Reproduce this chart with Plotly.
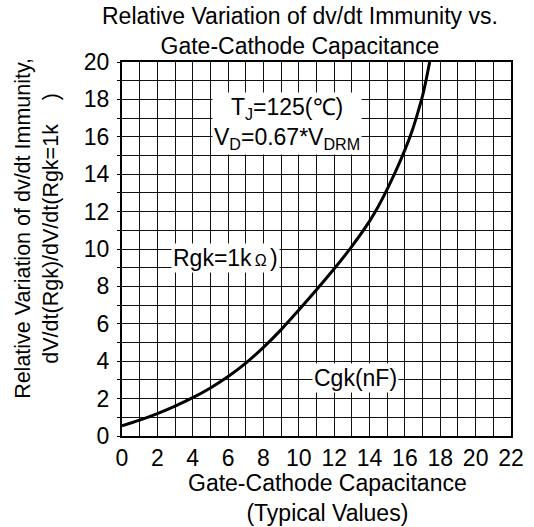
import plotly.graph_objects as go

# Data
cgk_nf = [0, 1, 2, 3, 4, 5, 6, 7, 8, 9, 10, 11, 12, 13, 14, 14.5, 15, 15.5, 16,
          16.4, 16.7, 17, 17.2, 17.4]
rel_dvdt = [0.55, 0.85, 1.2, 1.6, 2.05, 2.57, 3.18, 3.9, 4.74, 5.69, 6.74, 7.82, 8.94,
            10.14, 11.49, 12.29, 13.2, 14.2, 15.3, 16.3, 17.2, 18.2, 19.05, 20]

x_ticks = [0, 2, 4, 6, 8, 10, 12, 14, 16, 18, 20, 22]
y_ticks = [0, 2, 4, 6, 8, 10, 12, 14, 16, 18, 20]

FONT = "Liberation Sans, Arial, sans-serif"
FS = 23
GRID = "#111111"

fig = go.Figure()
fig.add_trace(go.Scatter(
    x=cgk_nf, y=rel_dvdt, mode="lines",
    line=dict(color="black", width=3, shape="spline", smoothing=1.0),
    showlegend=False, hoverinfo="skip",
))

fig.update_layout(
    width=534, height=527,
    margin=dict(l=122, r=23, t=62, b=91, autoexpand=False),
    paper_bgcolor="white", plot_bgcolor="white",
    font=dict(family=FONT, size=FS, color="black"),
    showlegend=False,
)

fig.update_xaxes(
    range=[0, 22], tickvals=x_ticks, ticktext=[str(v) for v in x_ticks],
    showgrid=True, gridcolor=GRID, gridwidth=1.2,
    minor=dict(dtick=1, showgrid=True, gridcolor=GRID, gridwidth=1.2),
    showline=True, linecolor="black", linewidth=2, mirror=True,
    ticks="", zeroline=False, tickfont=dict(size=FS), automargin=False,
)
fig.update_yaxes(
    range=[0, 20], tickvals=y_ticks, ticktext=[str(v) for v in y_ticks],
    showgrid=True, gridcolor=GRID, gridwidth=1.2,
    minor=dict(dtick=1, showgrid=True, gridcolor=GRID, gridwidth=1.2,
               ticks="outside", ticklen=3, tickcolor="black"),
    showline=True, linecolor="black", linewidth=2, mirror=True,
    ticks="outside", ticklen=3, tickcolor="black",
    zeroline=False, tickfont=dict(size=FS), ticklabelstandoff=3, automargin=False,
)

# Title
fig.add_annotation(
    xref="paper", yref="paper", x=0.4576, y=1.083, xanchor="center", yanchor="middle",
    text="Relative Variation of dv/dt Immunity vs.<br>Gate-Cathode Capacitance",
    showarrow=False, font=dict(size=FS),
)
# X axis title
fig.add_annotation(
    xref="paper", yref="paper", x=0.527, y=-0.166, xanchor="center", yanchor="middle",
    text="Gate-Cathode Capacitance<br>(Typical Values)",
    showarrow=False, font=dict(size=FS),
)
# Y axis title
fig.add_annotation(
    xref="paper", yref="paper", x=-0.219, y=0.556, xanchor="center", yanchor="middle",
    text="Relative Variation of dv/dt Immunity,<br>dV/dt(Rgk)/dV/dt(Rgk=1k\u00a0\u00a0\u00a0\u00a0)",
    textangle=-90, showarrow=False, font=dict(size=21.5),
)

# In-plot labels
fig.add_annotation(
    x=9.33, y=16.7, xanchor="center", yanchor="middle",
    text="T<sub>J</sub>=125(℃)<br>V<sub>D</sub>=0.67*V<sub>DRM</sub>",
    showarrow=False, bgcolor="white", font=dict(size=FS),
)
fig.add_annotation(
    x=5.85, y=9.5, xanchor="center", yanchor="middle",
    text="Rgk=1k<span style='font-size:16px'>\u2009Ω\u2009</span>)",
    showarrow=False, bgcolor="white", font=dict(size=FS),
)
fig.add_annotation(
    x=13.2, y=3.1, xanchor="center", yanchor="middle",
    text="Cgk(nF)",
    showarrow=False, bgcolor="white", font=dict(size=FS),
)

fig.write_html("out.html", config={"displayModeBar": False},
               post_script="document.body.style.margin='0';")
